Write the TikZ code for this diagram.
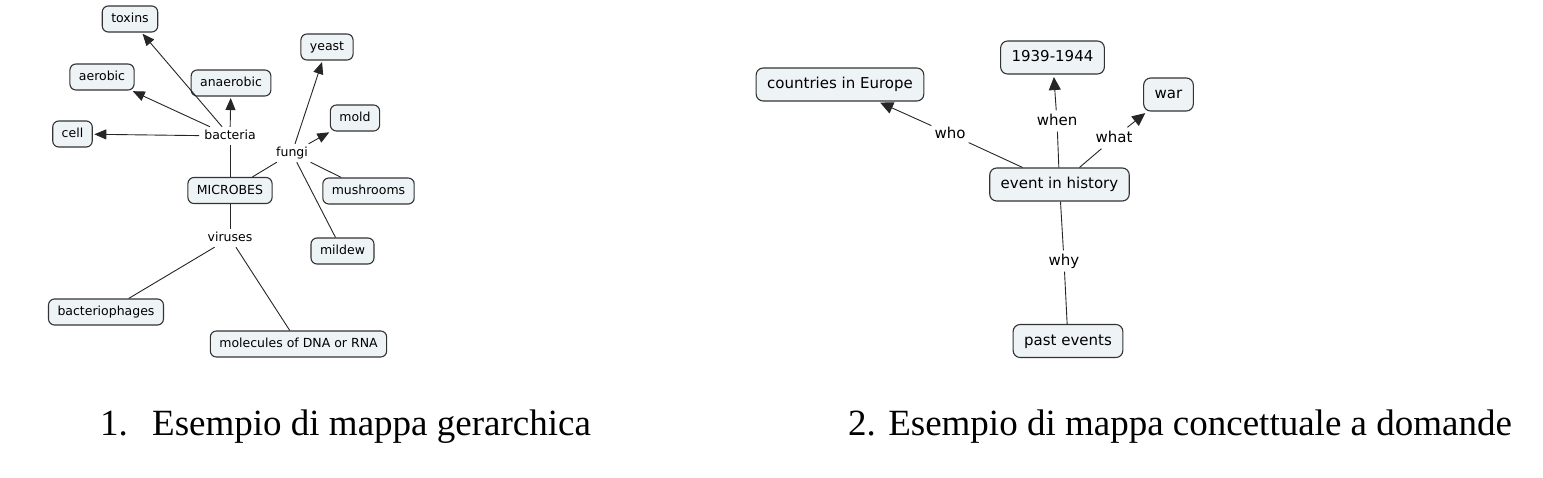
\documentclass[tikz,border=0pt]{standalone}
\usepackage{fontspec}
\setmainfont{Liberation Serif}
\newfontfamily\cmapfont{DejaVu Sans}
\usetikzlibrary{arrows.meta}
\definecolor{conceptfill}{HTML}{EEF3F6}
\definecolor{conceptline}{HTML}{333333}
\begin{document}
\begin{tikzpicture}[x=1pt, y=-1pt,
  concept/.style={draw=conceptline, fill=conceptfill, line width=1.1pt, rounded corners=6pt,
    font={\cmapfont\fontsize{12.5}{15}\selectfont}, text height=9.5pt, text depth=2.5pt,
    inner xsep=9pt, inner ysep=7pt},
  bigconcept/.style={concept, rounded corners=7pt, font={\cmapfont\fontsize{15}{18}\selectfont},
    text height=11.5pt, text depth=3.5pt, inner xsep=11pt, inner ysep=9pt},
  phrase/.style={font={\cmapfont\fontsize{12.5}{15}\selectfont}, text height=9.5pt, text depth=2.5pt,
    inner xsep=5pt, inner ysep=3pt},
  bigphrase/.style={phrase, font={\cmapfont\fontsize{15}{18}\selectfont}, text height=11.5pt,
    text depth=3.5pt, inner xsep=3pt, inner ysep=3pt},
  link/.style={line width=0.9pt, draw=black!85},
  arr/.style={link, -{Triangle[length=12pt,width=10pt]}, shorten >=1.5pt},
  bigarr/.style={link, -{Triangle[length=13pt,width=12pt]}, shorten >=2.5pt},
  caption/.style={anchor=base west, inner sep=0pt, font={\fontsize{37}{42}\selectfont}}]
\path[use as bounding box, fill=white] (0,0) rectangle (1543,477);
\node[concept] (toxins) at (130,19){toxins};
\node[concept] (aerobic) at (102,77){aerobic};
\node[concept] (anaerobic) at (231,83){anaerobic};
\node[concept] (cell) at (72.5,134){cell};
\node[phrase] (bacteria) at (230,136){bacteria};
\node[concept] (yeast) at (327,47){yeast};
\node[concept] (mold) at (355,118){mold};
\node[phrase] (fungi) at (292,153){fungi};
\node[concept] (microbes) at (230,190.5){MICROBES};
\node[concept] (mushrooms) at (368.5,191){mushrooms};
\node[phrase] (viruses) at (230,238){viruses};
\node[concept] (mildew) at (342.5,251){mildew};
\node[concept] (phages) at (106,312){bacteriophages};
\node[concept] (molecules) at (298.5,344){molecules of DNA or RNA};
\draw[link](microbes) -- (bacteria);
\draw[arr](bacteria) -- (cell);
\draw[arr](bacteria) -- (aerobic);
\draw[arr](bacteria) -- (toxins);
\draw[arr](bacteria) -- (anaerobic);
\draw[link](microbes) -- (fungi);
\draw[arr](fungi) -- (yeast);
\draw[arr](fungi) -- (mold);
\draw[link](fungi) -- (mushrooms);
\draw[link](fungi) -- (mildew);
\draw[link](microbes) -- (viruses);
\draw[link](viruses) -- (phages);
\draw[link](viruses) -- (molecules);
\node[bigconcept] (countries) at (840,84.5){countries in Europe};
\node[bigconcept] (years) at (1052.5,57.5){1939-1944};
\node[bigconcept] (war) at (1168.5,94.5){war};
\node[bigconcept] (event) at (1059.5,184.5){event in history};
\node[bigconcept] (past) at (1068,341){past events};
\node[bigphrase] (who) at (950,134){who};
\node[bigphrase] (when) at (1057,121){when};
\node[bigphrase] (what) at (1114,138){what};
\node[bigphrase] (why) at (1064,261){why};
\draw[link](event) -- (who);
\draw[bigarr](who) -- (countries);
\draw[link](event) -- (when);
\draw[bigarr](when) -- (years);
\draw[link](event) -- (what);
\draw[bigarr](what) -- (war);
\draw[link](event) -- (why);
\draw[link](why) -- (past);
\node[caption] (capnum) at (100,435){1.};
\node[caption] (cap1) at (152,435){Esempio di mappa gerarchica};
\node[caption] (cap2) at (848,435){2. Esempio di mappa concettuale a domande};
\end{tikzpicture}
\end{document}
